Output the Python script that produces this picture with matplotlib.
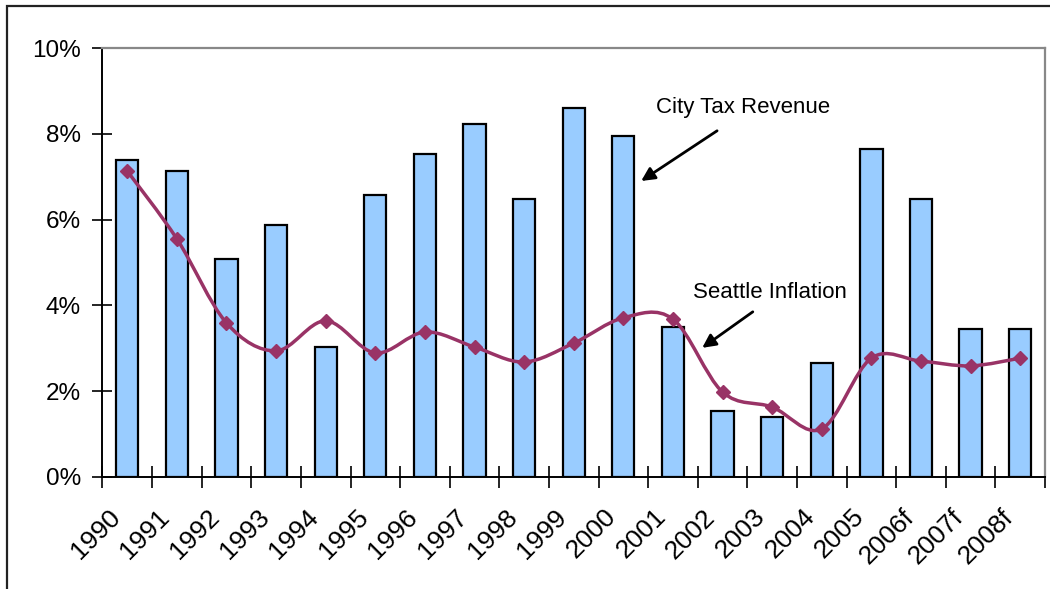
"""
City tax revenue growth vs. Seattle inflation, 1990-2008f
"""

import numpy as np
import matplotlib
matplotlib.use('Agg')
from matplotlib import pyplot as plt
from matplotlib.path import Path
from matplotlib.patches import PathPatch, Rectangle
from matplotlib.ticker import FuncFormatter
import matplotlib.transforms as mtransforms

plt.rcParams['font.family'] = ['Liberation Sans', 'DejaVu Sans']

# --------------------------------------------------------------------------------------------------
# Data (percent)
# --------------------------------------------------------------------------------------------------

years = ['1990', '1991', '1992', '1993', '1994', '1995', '1996', '1997', '1998', '1999',
         '2000', '2001', '2002', '2003', '2004', '2005', '2006f', '2007f', '2008f']

tax_revenue = [7.39, 7.13, 5.08, 5.88, 3.03, 6.57, 7.52, 8.22, 6.48, 8.60,
               7.95, 3.50, 1.54, 1.40, 2.66, 7.65, 6.48, 3.45, 3.45]

inflation = [7.13, 5.55, 3.59, 2.94, 3.64, 2.89, 3.38, 3.03, 2.68, 3.12,
             3.71, 3.68, 1.98, 1.63, 1.12, 2.77, 2.70, 2.59, 2.77]

bar_color = '#99CCFF'
line_color = '#993366'

# --------------------------------------------------------------------------------------------------
# Figure
# --------------------------------------------------------------------------------------------------

fig = plt.figure(figsize=(10.5, 5.89), dpi=100)
ax = fig.add_axes([0.0976, 0.1902, 0.8976, 0.7283])

x = np.arange(len(years))
ax.bar(x, tax_revenue, width=0.45, color=bar_color, edgecolor='black', linewidth=1.6, zorder=2)

# Smoothed line (Excel style bezier through the points)
pts = np.column_stack([x, inflation]).astype(float)
verts = [tuple(pts[0])]
codes = [Path.MOVETO]
n = len(pts)
for i in range(n - 1):
    p0 = pts[max(i - 1, 0)]
    p1 = pts[i]
    p2 = pts[i + 1]
    p3 = pts[min(i + 2, n - 1)]
    c1 = p1 + (p2 - p0) / 6.0
    c2 = p2 - (p3 - p1) / 6.0
    verts += [tuple(c1), tuple(c2), tuple(p2)]
    codes += [Path.CURVE4] * 3
ax.add_patch(PathPatch(Path(verts, codes), facecolor='none', edgecolor=line_color,
                       linewidth=2.5, zorder=3, capstyle='round'))
ax.plot(x, inflation, linestyle='none', marker='D', markersize=7.5,
        color=line_color, zorder=4)

# Axes styling
ax.set_xlim(-0.5, len(years) - 0.5)
ax.set_ylim(0, 10)
ax.set_yticks([0, 2, 4, 6, 8, 10])
ax.yaxis.set_major_formatter(FuncFormatter(lambda v, p: '%d%%' % v))
ax.tick_params(axis='y', direction='inout', length=15, width=1.2, labelsize=17.5, pad=8)

ax.set_xticks(x)
ax.set_xticklabels(years, rotation=45, ha='right', va='center', rotation_mode='anchor')
ax.set_xticks(np.arange(len(years) + 1) - 0.5, minor=True)
ax.tick_params(axis='x', which='major', length=0, labelsize=19, pad=26)
ax.tick_params(axis='x', which='minor', direction='inout', length=16, width=1.2)
shift = mtransforms.ScaledTranslation(-11 / 100, 0, fig.dpi_scale_trans)
for lbl in ax.get_xticklabels():
    lbl.set_transform(lbl.get_transform() + shift)

for side in ['left', 'bottom']:
    ax.spines[side].set_color('black')
    ax.spines[side].set_linewidth(1.4)
for side in ['top', 'right']:
    ax.spines[side].set_color('#888888')
    ax.spines[side].set_linewidth(1.6)

# Annotations
arrow = dict(arrowstyle='-|>', color='black', lw=2, mutation_scale=20, shrinkA=0, shrinkB=0)
ax.text(12.41, 8.62, 'City Tax Revenue', fontsize=16, ha='center', va='center')
ax.annotate('', xy=(10.36, 6.90), xytext=(11.89, 8.07), arrowprops=arrow)
ax.text(12.96, 4.31, 'Seattle Inflation', fontsize=16, ha='center', va='center')
ax.annotate('', xy=(11.59, 3.01), xytext=(12.61, 3.85), arrowprops=arrow)

# Outer chart border (cropped on right and bottom)
fig.patches.append(Rectangle((7 / 1050, -0.1), 1.2, 1.1 - 6 / 589,
                             transform=fig.transFigure, fill=False,
                             edgecolor='#222222', linewidth=1.6))

fig.savefig('out.png', dpi=100)
